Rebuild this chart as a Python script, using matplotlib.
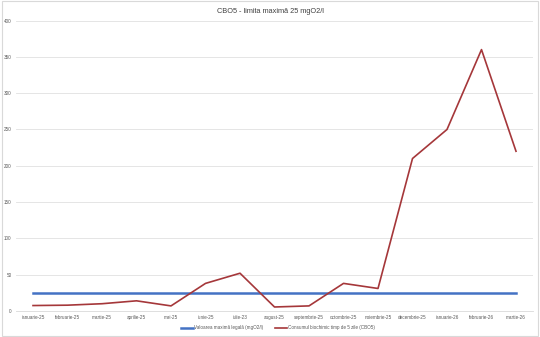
import matplotlib
matplotlib.use("Agg")
import matplotlib.pyplot as plt
from matplotlib.patches import Rectangle

months = ["ianuarie-25", "februarie-25", "martie-25", "aprilie-25", "mai-25",
          "iunie-25", "iulie-23", "august-25", "septembrie-25", "octombrie-25",
          "noiembrie-25", "decembrie-25", "ianuarie-26", "februarie-26", "martie-26"]
limit_values = [25] * 15
cbo5_values = [7.5, 8, 10, 14, 7, 38, 52, 5.5, 7, 38, 31, 210, 250, 360, 220]
y_ticks = [0, 50, 100, 150, 200, 250, 300, 350, 400]

plt.rcParams['font.family'] = ['Liberation Sans', 'DejaVu Sans']

fig = plt.figure(figsize=(5.4, 3.37), dpi=100)
fig.patches.append(Rectangle((0.004, 0.003), 0.992, 0.994, transform=fig.transFigure,
                             fill=False, edgecolor='#d9d9d9', linewidth=0.8))
ax = fig.add_axes([0.0292, 0.0772, 0.9583, 0.8618])

x = list(range(len(months)))
ax.plot(x, limit_values, color='#4472C4', linewidth=1.8,
        label='Valoarea maximă legală (mgO2/l)')
ax.plot(x, cbo5_values, color='#A5373A', linewidth=1.2,
        label='Consumul biochimic timp de 5 zile (CBO5)')

ax.set_xlim(-0.5, len(months) - 0.5)
ax.set_ylim(0, 400)
ax.set_yticks(y_ticks)
ax.set_yticklabels([str(v) for v in y_ticks], fontsize=3.3, color='#595959')
ax.set_xticks(x)
ax.set_xticklabels(months, fontsize=3.3, color='#595959')
ax.tick_params(axis='both', length=0, pad=3)
ax.grid(axis='y', color='#e0e0e0', linewidth=0.6)
ax.set_axisbelow(True)
for s in ['top', 'right', 'left']:
    ax.spines[s].set_visible(False)
ax.spines['bottom'].set_color('#d9d9d9')
ax.spines['bottom'].set_linewidth(0.6)

fig.text(0.5, 0.966, 'CBO5 - limita maximă 25 mgO2/l', ha='center', va='center',
         fontsize=5.3, color='#404040')

leg = fig.legend(loc='center', bbox_to_anchor=(0.515, 0.027), ncol=2, frameon=False,
                 fontsize=3.3, handlelength=2.6, columnspacing=2.5, handletextpad=0.3)
for t in leg.get_texts():
    t.set_color('#595959')

fig.savefig('out.png', dpi=100, facecolor='white')
